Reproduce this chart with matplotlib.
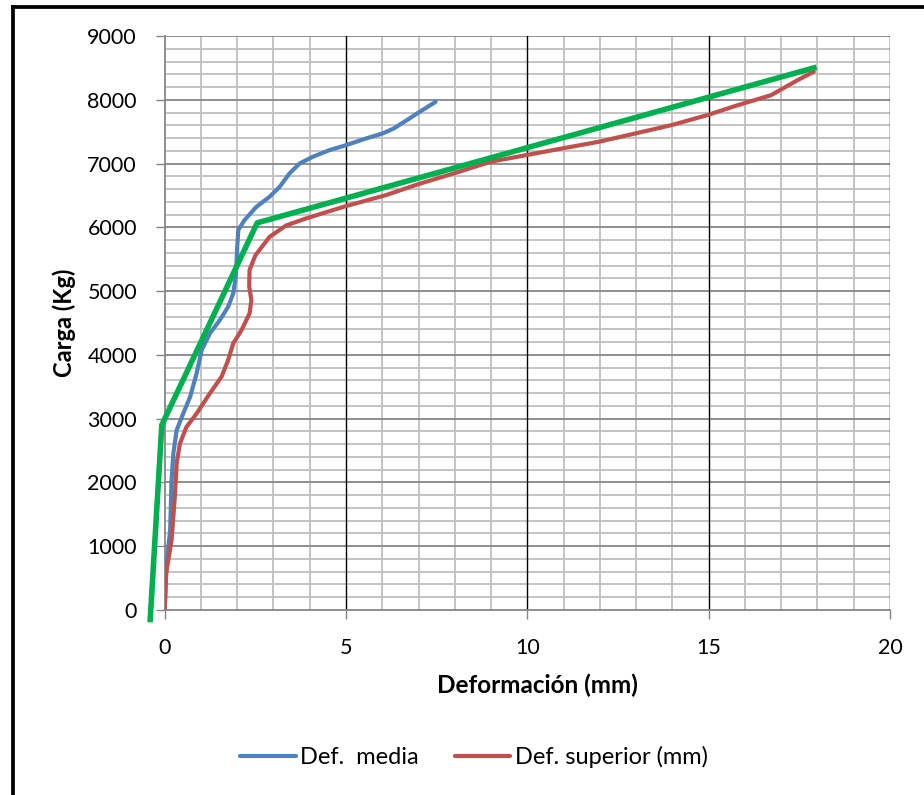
import matplotlib
matplotlib.use("Agg")
import matplotlib.pyplot as plt
from matplotlib.lines import Line2D
import numpy as np

plt.rcParams['font.family'] = ['Lato', 'DejaVu Sans']

# Def. media (blue)
media_x = [0, 0.05, 0.15, 0.19, 0.24, 0.33, 0.51, 0.7, 0.88, 1.02, 1.25, 1.52, 1.75, 1.89,
           1.96, 1.98, 2.0, 2.03, 2.2, 2.53, 2.89, 3.17, 3.44, 3.72, 4.08, 4.54, 5.0, 5.55,
           6.0, 6.3, 6.65, 7.0, 7.47]
media_y = [0, 730, 1250, 2040, 2460, 2820, 3080, 3340, 3710, 4075, 4340, 4545, 4755, 4965,
           5225, 5435, 5695, 5960, 6113, 6322, 6478, 6635, 6844, 7001, 7105, 7210, 7288, 7393,
           7470, 7545, 7670, 7800, 7967]

# Def. superior (red)
sup_x = [0, 0.04, 0.19, 0.28, 0.33, 0.42, 0.6, 0.88, 1.25, 1.57, 1.75, 1.89, 2.12, 2.34,
         2.39, 2.33, 2.34, 2.5, 2.89, 3.35, 3.9, 4.98, 6.1, 7.01, 8.0, 9.0, 9.97, 10.95,
         11.96, 12.97, 13.97, 14.96, 15.8, 16.72, 17.45, 17.9]
sup_y = [0, 575, 1100, 1780, 2300, 2610, 2870, 3080, 3400, 3660, 3920, 4180, 4390, 4650,
         4860, 5070, 5330, 5560, 5850, 6030, 6140, 6330, 6505, 6680, 6850, 7030, 7132, 7236,
         7340, 7471, 7602, 7759, 7915, 8072, 8307, 8440]

# Trilinear fit (green)
fit_x = [-0.4, -0.08, 2.55, 17.9]
fit_y = [-150, 2900, 6070, 8500]

x_ticks = [0, 5, 10, 15, 20]
y_ticks = [0, 1000, 2000, 3000, 4000, 5000, 6000, 7000, 8000, 9000]

W, H = 924, 795
fig = plt.figure(figsize=(W / 100, H / 100), dpi=100)
ax = fig.add_axes([164.7 / W, 1 - 610 / H, (890 - 164.7) / W, (610 - 36) / H])

ax.set_xlim(0, 20)
ax.set_ylim(0, 9000)

# grid
for xv in np.arange(1, 20, 1):
    if xv % 5 == 0:
        continue
    ax.axvline(xv, color='#BFBFBF', lw=1.3, zorder=0)
for yv in np.arange(200, 9000, 200):
    if yv % 1000 == 0:
        continue
    ax.axhline(yv, color='#BFBFBF', lw=1.3, zorder=0)
for yv in y_ticks[1:]:
    ax.axhline(yv, color='#868686', lw=1.3, zorder=0.5)
for xv in x_ticks[1:]:
    ax.axvline(xv, color='black', lw=1.0, zorder=0.6)

ax.plot(media_x, media_y, color='#4F81BD', lw=3.0, solid_capstyle='round',
        solid_joinstyle='round', label='Def.  media', zorder=3)
ax.plot(sup_x, sup_y, color='#C0504D', lw=3.0, solid_capstyle='round',
        solid_joinstyle='round', label='Def. superior (mm)', zorder=3)
ax.plot(fit_x, fit_y, color='#00B050', lw=4.0, clip_on=False, zorder=4)

for s in ['top', 'right']:
    ax.spines[s].set_visible(False)
for s in ['left', 'bottom']:
    ax.spines[s].set_color('#868686')
    ax.spines[s].set_linewidth(1.3)

ax.set_xticks(x_ticks)
ax.set_yticks(y_ticks)
ax.tick_params(axis='both', direction='out', length=6.5, width=1.0, color='#868686',
               labelsize=15.5, pad=13.5)

ax.set_xlabel('Deformación (mm)', fontsize=17.5, fontweight='bold')
ax.xaxis.set_label_coords((537 - 164.7) / (890 - 164.7), -(674 - 610) / (610 - 36))
ax.set_ylabel('Carga (Kg)', fontsize=17, fontweight='bold', labelpad=8)

fig.legend(loc='center', bbox_to_anchor=(474 / W, 1 - 757 / H), ncol=2, frameon=False,
           fontsize=17, handlelength=2.35, handletextpad=0.2, columnspacing=1.5)

# outer frame (left and top visible)
fig.add_artist(Line2D([12.5 / W, 12.5 / W], [0, 1 - 6.5 / H], color='black', lw=2.7,
                      transform=fig.transFigure))
fig.add_artist(Line2D([12.5 / W, 1], [1 - 6.5 / H, 1 - 6.5 / H], color='black', lw=2.7,
                      transform=fig.transFigure))

fig.savefig('out.png', dpi=100)
